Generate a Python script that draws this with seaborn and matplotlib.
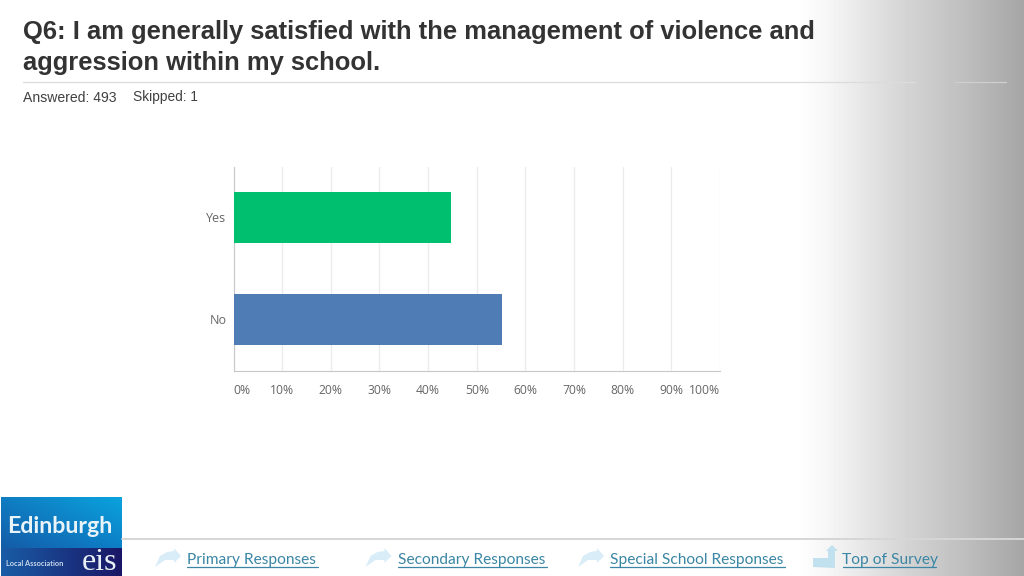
import numpy as np
import pandas as pd
import seaborn as sns
import matplotlib.pyplot as plt
from matplotlib.patches import Polygon

categories = ['Yes', 'No']
percent = [44.7, 55.1]
tick_values = [0, 10, 20, 30, 40, 50, 60, 70, 80, 90, 100]
tick_labels = ['0%', '10%', '20%', '30%', '40%', '50%', '60%', '70%', '80%', '90%', '100%']
title_lines = ['Q6: I am generally satisfied with the management of violence and',
               'aggression within my school.']
links = ['Primary Responses', 'Secondary Responses', 'Special School Responses', 'Top of Survey']

sns.set_style('white')
plt.rcParams['font.family'] = ['Liberation Sans', 'DejaVu Sans']

W, H = 1024, 576
fig = plt.figure(figsize=(W / 100, H / 100), dpi=100)

# Slide background, drawn in pixel coordinates
bg = fig.add_axes([0, 0, 1, 1], zorder=0)
bg.axis('off')
xs = np.arange(W)
grey = np.interp(xs, [795, 830, 893, 960, 1024], [255, 245, 217, 192, 165])
bg.imshow(np.tile(grey, (2, 1)), cmap='gray', vmin=0, vmax=255,
          extent=[0, W, H, 0], aspect='auto', zorder=0)

bg.text(23, 32, title_lines[0], fontsize=18.4, fontweight='bold', color='#333333', va='center')
bg.text(23, 63, title_lines[1], fontsize=18.4, fontweight='bold', color='#333333', va='center')
bg.text(23, 97.5, 'Answered: 493', fontsize=10.1, color='#404040', va='center')
bg.text(133, 97.5, 'Skipped: 1', fontsize=9.9, color='#404040', va='center')
bg.plot([23, 915], [81.5, 81.5], color='#dcdcdc', lw=0.9)
bg.plot([955, 1006], [81.5, 81.5], color='#cfcfcf', lw=0.9)
bg.plot([122, 1024], [539, 539], color='#d6d6d6', lw=1.4)

# Logo block, colours blended between its corners
u, v = np.meshgrid(np.linspace(0, 1, 121), np.linspace(0, 1, 51))
tl, tr = np.array([0.06, 0.49, 0.76]), np.array([0.04, 0.64, 0.87])
bl, br = np.array([0.08, 0.36, 0.66]), np.array([0.05, 0.50, 0.78])
top = (1 - v[..., None]) * ((1 - u[..., None]) * tl + u[..., None] * tr) + v[..., None] * ((1 - u[..., None]) * bl + u[..., None] * br)
bg.imshow(top, extent=[1, 122, 548, 497], aspect='auto', zorder=1)
u2 = np.linspace(0, 1, 121)[None, :, None]
low = (1 - u2) * np.array([0.10, 0.36, 0.65]) + u2 * np.array([0.10, 0.09, 0.40])
bg.imshow(low, extent=[1, 122, 576, 548], aspect='auto', zorder=2)
bg.text(7, 526.5, 'Edinburgh', family='Lato', fontsize=16.7, fontweight='bold', color='#e8f4fa', va='center', zorder=3)
bg.text(6, 564, 'Local Association', family='Lato', fontsize=5.3, fontweight='bold', color='#c8d8ec', va='center', zorder=3)
bg.text(82, 562, 'eis', family='Liberation Serif', fontsize=23, color='#e8f0f6', va='center', zorder=3)

# Footer links with their arrow icons
link_x = [187, 397.5, 610, 842.5]
link_end = [317.5, 546.5, 785, 936]
for name, x0, x1 in zip(links, link_x, link_end):
    bg.text(x0, 560, name, family='Lato', fontsize=11.2, color='#3a86a4', va='center')
    bg.plot([x0, x1], [567, 567], color='#3a86a4', lw=0.9)
for x0 in link_x[:3]:
    ox = x0 - 32
    bg.add_patch(Polygon([(ox, 567), (ox + 5, 556), (ox + 12, 552), (ox + 19, 551), (ox + 19, 548), (ox + 26, 556),
                          (ox + 19, 563), (ox + 19, 560), (ox + 10, 560)],
                         color='#d9edf8', lw=0))
bg.add_patch(Polygon([(813, 567), (813, 558), (828, 558), (828, 551), (826, 551), (832, 545),
                      (838, 551), (835, 551), (835, 568)],
                     color='#c2e1ef', lw=0))
bg.set_xlim(0, W)
bg.set_ylim(H, 0)

# Survey chart
ax = fig.add_axes([233.5 / W, 1 - 370.5 / H, 486.5 / W, 204 / H], zorder=1)
ax.patch.set_alpha(0)
df = pd.DataFrame({'answer': categories, 'percent': percent})
sns.barplot(data=df, x='percent', y='answer', hue='answer', palette=['#00bf6f', '#507cb6'],
            orient='h', width=0.5, legend=False, saturation=1, linewidth=0, ax=ax, zorder=3)
ax.set_xlim(0, 100)
ax.set_ylim(1.5, -0.5)
ax.set_xlabel('')
ax.set_ylabel('')
ax.set_xticks(tick_values)
ax.set_xticklabels(tick_labels, family='Open Sans', fontsize=8.7, color='#666666')
ax.xaxis.get_majorticklabels()[0].set_ha('left')
ax.xaxis.get_majorticklabels()[-1].set_ha('right')
ax.tick_params(axis='x', length=0, pad=9.5)
ax.tick_params(axis='y', length=0, pad=5, labelsize=9, labelcolor='#666666')
for lab in ax.get_yticklabels():
    lab.set_family('Open Sans')
ax.grid(axis='x', color='#ececec', lw=1)
ax.set_axisbelow(True)
sns.despine(ax=ax, top=True, right=True)
ax.spines['left'].set_color('#c8c8cc')
ax.spines['bottom'].set_color('#c8c8cc')

fig.savefig('out.png', dpi=100)
